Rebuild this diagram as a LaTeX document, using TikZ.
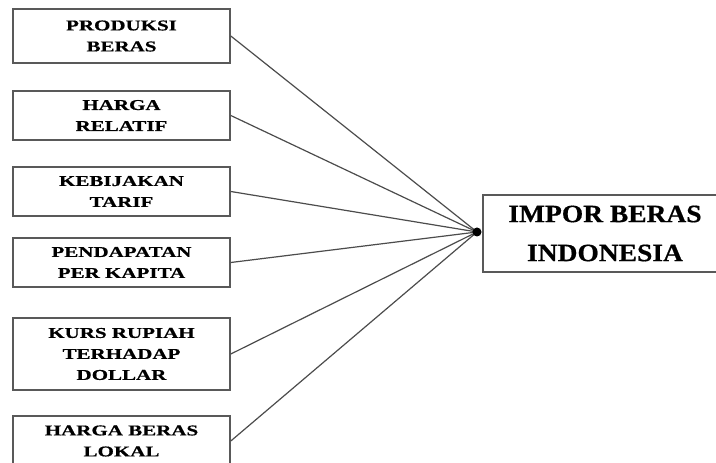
\documentclass[tikz,border=0pt]{standalone}
\usepackage{fontspec}
\setmainfont{Liberation Serif}
\newfontfamily\lblfont{Liberation Serif}[FakeStretch=1.4,FakeBold=0.6]
\newfontfamily\bigfont{Liberation Serif}[FakeStretch=1.1,FakeBold=0.6]
\begin{document}
\begin{tikzpicture}[x=1pt,y=1pt,
  src/.style={draw=black!65,line width=1.6pt,minimum width=217pt,align=center,inner sep=2pt,
    font=\lblfont\bfseries\fontsize{15}{21}\selectfont},
  dst/.style={draw=black!65,line width=1.6pt,minimum width=244pt,minimum height=77pt,align=center,
    font=\bigfont\bfseries\fontsize{25}{39}\selectfont},
  link/.style={draw=black!70,line width=1.2pt}]
\clip (0,0) rectangle (716,463);
\fill[white] (0,0) rectangle (716,463);
\node[src,minimum height=54pt] (a) at (121.5,427) {PRODUKSI\\BERAS};
\node[src,minimum height=49pt] (b) at (121.5,347.5) {HARGA\\RELATIF};
\node[src,minimum height=49pt] (c) at (121.5,271.5) {KEBIJAKAN\\TARIF};
\node[src,minimum height=49pt] (d) at (121.5,200.5) {PENDAPATAN\\PER KAPITA};
\node[src,minimum height=72pt] (e) at (121.5,109) {KURS RUPIAH\\TERHADAP\\DOLLAR};
\node[src,minimum height=50pt] (f) at (121.5,22) {HARGA BERAS\\LOKAL};
\node[dst] (g) at (605,229.5) {IMPOR BERAS\\INDONESIA};
\coordinate (hub) at (477,231);
\foreach \n in {a,b,c,d,e,f} \draw[link] (\n.east) -- (hub);
\fill (hub) circle (4.5pt);
\end{tikzpicture}
\end{document}
